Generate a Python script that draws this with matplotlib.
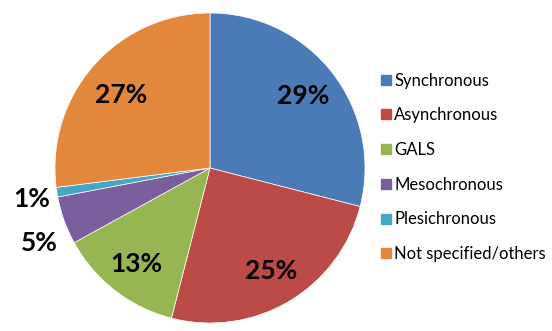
import matplotlib.pyplot as plt
import numpy as np
from matplotlib.lines import Line2D

labels = ['Synchronous', 'Asynchronous', 'GALS', 'Mesochronous',
          'Plesichronous', 'Not specified/others']
values = [29, 25, 13, 5, 1, 27]
colors = ['#4A7BB6', '#BC4B48', '#96B653', '#7B5E9E', '#45A8C3', '#E3873D']

# label distance from centre (in radii) and angle nudge (deg) per wedge
label_dist = [0.76, 0.77, 0.78, 1.20, 1.17, 0.74]
label_nudge = [0, 0, 0, 4, 1, 2]

plt.rcParams['font.family'] = ['Lato', 'DejaVu Sans']

fig = plt.figure(figsize=(5.52, 3.31), dpi=100)
cx, cy, r = 210, 331 - 168, 155
ax = fig.add_axes([(cx - r) / 552, (cy - r) / 331, 2 * r / 552, 2 * r / 331])

wedges, _ = ax.pie(values, colors=colors, startangle=90, counterclock=False,
                   wedgeprops=dict(edgecolor='white', linewidth=0.5))
ax.set_xlim(-1, 1)
ax.set_ylim(-1, 1)
ax.set_aspect('equal')

total = sum(values)
start = 90.0
for v, d, n in zip(values, label_dist, label_nudge):
    mid = np.deg2rad(start - v / total * 360 / 2 + n)
    start -= v / total * 360
    ax.text(d * np.cos(mid), d * np.sin(mid), f'{v}%', ha='center', va='center',
            fontsize=19, fontweight='bold', color='black', clip_on=False)

handles = [Line2D([], [], marker='s', linestyle='', markersize=7.5,
                  markerfacecolor=c, markeredgecolor=c) for c in colors]
fig.legend(handles, labels, loc='upper left', bbox_to_anchor=(371 / 552, 1 - 66 / 331),
           frameon=False, fontsize=12, labelspacing=1.12, handletextpad=0.0,
           handlelength=1.0, borderaxespad=0)

fig.savefig('out.png', dpi=100)
